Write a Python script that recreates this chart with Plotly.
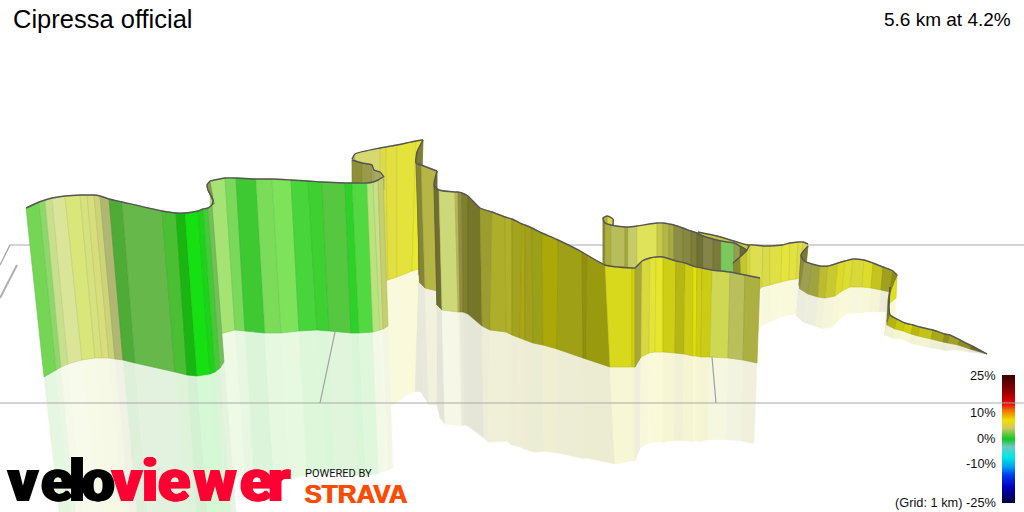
import plotly.graph_objects as go

TITLE = "Cipressa official"
SUBTITLE = "5.6 km at 4.2%"

S1_TOP_X = [26,39,45,52,65,80,87,94,100,109,122,162,176,185,198,203,208,212]
S1_TOP_Y = [208,202,200,198,196,195,195,195,196,199,202,211,213,213,211,209,208,205]
S1_BOT_X = [44,56,61,68,82,95,102,109,115,123,135,175,187,197,210,215,220,224]
S1_BOT_Y = [377,370,367,364,360,358,358,358,359,360,363,372,375,376,374,372,368,362]
S1_COL = ["#74d654","#8cd868","#c6e08c","#dbe59a","#d8e67a","#d6e27e","#d8de7c","#ccd477","#b0b770","#4dab36","#66b84a","#4abf33","#1ab511","#17e012","#1dd318","#40cc35","#72c058"]

S2_TOP_X = [210,225,236,256,272,291,308,322,345,352,367,373,378,383]
S2_TOP_Y = [181,178,178,179,179,180,181,182,183,183,183,182,180,177]
S2_BOT_X = [212,235,245,265,281,299,317,329,351,359,373,380,383,388]
S2_BOT_Y = [336,330,331,333,333,331,330,331,333,333,332,330,329,326]
S2_COL = ["#a5e474","#7ad85a","#3ec832","#7bdc5a","#7ee25a","#48d53c","#3dd030","#55c840","#2fd028","#52d840","#b8e47c","#c8e08a","#c4d06e"]

FOLD_TOP_X = [212,213,208,207,210]
FOLD_TOP_Y = [205,200,190,185,181]
FOLD_BOT_X = [213,214,214,214,214]
FOLD_BOT_Y = [205,204,204,204,204]
FOLD_COL = ["#7a8a40","#7a8a40","#8a9a50","#8a9a50"]

S2B_TOP_X = [352,362,372,374,380,384]
S2B_TOP_Y = [160,163,165,170,172,177]
S2B_BOT_X = [352,362,372,374,380,384]
S2B_BOT_Y = [190,190,190,190,190,190]
S2B_COL = ["#8f8f3a","#9a9a48","#a8a860","#a8a860","#b0b070"]

S3_TOP_X = [352,355,380,386,397,416,423]
S3_TOP_Y = [159,154,148,147,145,141,140]
S3_BOT_X = [360,362,382,388,397,412,419]
S3_BOT_Y = [290,290,283,280,277,271,269]
S3_COL = ["#b0b050","#d8d870","#dcdc4a","#e2e040","#e4e33c","#e8e82c"]

S4_TOP_X = [423,417,416,421,437]
S4_TOP_Y = [140,152,163,165,171]
S4_BOT_X = [419,419,420,425,437]
S4_BOT_Y = [269,275,283,288,291]
S4_COL = ["#7d7d38","#7d7d38","#85853a","#b6b645"]

S5_TOP_X = [437,434,439,455,458,462,468,480,492,505,512,522,525,532,542,558,582,587,605,632,635,642,650,656,663,676,685,693,697,702,712,730,745,760]
S5_TOP_Y = [171,186,190,192,192,193,196,208,212,217,219,224,225,228,233,240,252,255,265,268,268,261,258,257,257,261,263,266,267,268,270,272,275,278]
S5_BOT_X = [437,437,442,458,460,463,468,482,490,506,512,520,525,533,543,557,583,586,610,632,635,641,649,655,663,675,684,693,696,701,710,728,743,757]
S5_BOT_Y = [291,305,310,312,312,312,314,326,330,332,335,338,340,343,345,349,358,359,367,367,367,357,353,352,352,353,354,356,356,357,357,358,360,363]
S5_COL = ["#6e6e30","#6e6e30","#cdd878","#b8b858","#8f8f3c","#7f7f2c","#767628","#9c9c30","#aeae2a","#b0b02a","#a3a31e","#aaa614","#a0a01c","#9aa018","#aca808","#a0a016","#90900c","#9a9a0e","#d8d81c","#d0d010","#a8a838","#d8d840","#e4e438","#e6e62e","#cece14","#b6b616","#cccc14","#e4e008","#cece14","#cccc14","#cfd852","#b9bf5a","#acb040"]

S6_TOP_X = [613,613,607,603,605,611,625,628,637,657,663,669,674,683,691,697,703,713,721,734,740,747]
S6_TOP_Y = [225,219,216,218,223,225,227,227,226,223,223,224,225,228,231,233,236,239,241,243,246,250]
S6_BOT_X = [613,613,607,603,605,611,625,628,637,657,663,669,674,683,691,697,703,713,721,734,740,747]
S6_BOT_Y = [228,228,290,290,290,290,290,290,290,290,290,290,290,290,290,290,290,290,290,290,290,290]
S6_COL = ["#d0d040","#d8d840","#b0b040","#888840","#aeae40","#b9bc5a","#a2a83e","#c6ca68","#dfe35a","#c6c84a","#b4b648","#a7a944","#8c8e46","#86883f","#7e7e3a","#6e7034","#85854a","#7a7a3c","#7cc85c","#90a050","#6c6c30"]

S7B_TOP_X = [698,717,737,748,763]
S7B_TOP_Y = [232,236,242,245,246]
S7B_BOT_X = [698,717,737,748,763]
S7B_BOT_Y = [270,270,270,270,270]
S7B_COL = ["#c8c840","#c8c840","#c8c840","#c8c840"]

S7_TOP_X = [733,740,747,750,763,770,782,790,798,803,808]
S7_TOP_Y = [263,257,250,245,246,246,245,243,242,242,244]
S7_BOT_X = [737,742,747,750,762,770,781,789,796,800,805]
S7_BOT_Y = [300,300,300,298,287,285,282,280,279,278,277]
S7_COL = ["#8a8a30","#c4c830","#d6d840","#dede50","#d8dc48","#e0e044","#e4e43c","#e2e240","#dcdc48","#d8d850"]

S9_TOP_X = [897,890]
S9_TOP_Y = [275,287]
S9_BOT_X = [896,889]
S9_BOT_Y = [298,304]
S9_COL = ["#e0e020"]

S8_TOP_X = [808,801,804,812,820,828,838,845,853,864,873,883,893,897]
S8_TOP_Y = [246,255,261,264,266,266,263,261,259,260,263,267,271,275]
S8_BOT_X = [805,799,800,808,818,825,835,842,850,862,871,881,890,890]
S8_BOT_Y = [277,285,289,294,297,298,296,291,287,287,288,290,292,293]
S8_COL = ["#7a7a30","#8c8c40","#9ea050","#a0a440","#bcbc30","#c8c830","#dcdc28","#dede30","#d8d838","#dcdc2c","#c4c41c","#a0a01c","#8c8c18"]

S10_TOP_X = [890,889,890,897,905,913,920,933,945,950,960,972,987]
S10_TOP_Y = [287,308,315,319,323,325,327,330,334,335,340,346,354]
S10_BOT_X = [888,887,887,895,903,911,918,931,943,948,958,970,987]
S10_BOT_Y = [300,322,325,329,331,334,336,339,342,343,345,349,354]
S10_COL = ["#6a6a20","#7a7a28","#b4b410","#c8c808","#d0d008","#b8b80c","#c4c418","#a8a818","#909018","#a0a02a","#8c8c20","#6a6a20"]

BAND_PARTS = [
    (S7B_TOP_X,S7B_TOP_Y,S7B_BOT_X,S7B_BOT_Y,S7B_COL,False),
    (S6_TOP_X,S6_TOP_Y,S6_BOT_X,S6_BOT_Y,S6_COL,False),
    (S7_TOP_X,S7_TOP_Y,S7_BOT_X,S7_BOT_Y,S7_COL,True),
    (S9_TOP_X,S9_TOP_Y,S9_BOT_X,S9_BOT_Y,S9_COL,True),
    (S8_TOP_X,S8_TOP_Y,S8_BOT_X,S8_BOT_Y,S8_COL,True),
    (S10_TOP_X,S10_TOP_Y,S10_BOT_X,S10_BOT_Y,S10_COL,True),
    (S3_TOP_X,S3_TOP_Y,S3_BOT_X,S3_BOT_Y,S3_COL,True),
    (S2B_TOP_X,S2B_TOP_Y,S2B_BOT_X,S2B_BOT_Y,S2B_COL,False),
    (S4_TOP_X,S4_TOP_Y,S4_BOT_X,S4_BOT_Y,S4_COL,True),
    (S5_TOP_X,S5_TOP_Y,S5_BOT_X,S5_BOT_Y,S5_COL,True),
    (S2_TOP_X,S2_TOP_Y,S2_BOT_X,S2_BOT_Y,S2_COL,True),
    (FOLD_TOP_X,FOLD_TOP_Y,FOLD_BOT_X,FOLD_BOT_Y,FOLD_COL,False),
    (S1_TOP_X,S1_TOP_Y,S1_BOT_X,S1_BOT_Y,S1_COL,True),
]

GRID_H_Y = [245, 403]
GRID_H_X0 = [10, 0]
GRID_SEG_X = [[10,0],[335,320],[712,716]]
GRID_SEG_Y = [[245,265],[332,403],[357,403]]
GRID_THICK_X = [17,0]
GRID_THICK_Y = [265,298]

LEGEND_LABELS = ["25%","10%","0%","-10%","(Grid: 1 km) -25%"]
LEGEND_Y = [375,412,438,463,502]
COLOR_STOPS = [(0,"#000040"),(0.125,"#0000c0"),(0.22,"#0040f0"),(0.28,"#00a0f0"),(0.36,"#00e8e8"),(0.44,"#70c8c0"),(0.50,"#10c820"),(0.586,"#d0c860"),(0.648,"#f0e000"),(0.727,"#f07000"),(0.781,"#e80000"),(0.883,"#8c0000"),(1,"#3c0000")]

LOGO_A = ["v","e","l","o"]
LOGO_A_X = [23,57,77,98]
LOGO_B = ["v","i","e","w","e","r"]
LOGO_B_X = [127,150,174,215,256,279]


def mix_white(c, t):
    r,g,b = int(c[1:3],16),int(c[3:5],16),int(c[5:7],16)
    return "#%02x%02x%02x" % tuple(int(v+(255-v)*t) for v in (r,g,b))

def darker(c, t):
    r,g,b = int(c[1:3],16),int(c[3:5],16),int(c[5:7],16)
    return "#%02x%02x%02x" % tuple(int(v*t) for v in (r,g,b))

fig = go.Figure()

def poly(xs, ys, fill, line, w):
    fig.add_trace(go.Scatter(x=xs, y=ys, mode="lines", fill="toself", fillcolor=fill,
                             line=dict(color=line, width=w), hoverinfo="skip", showlegend=False))

# reflections below the ribbon
KY, KX = 0.95, 1.0
for tx,ty,bx,by,col,refl in BAND_PARTS:
    if not refl:
        continue
    rx = [b+(b-t)*KX for t,b in zip(tx,bx)]
    ry = [b+(b-t)*KY for t,b in zip(ty,by)]
    for i,c in enumerate(col):
        f = mix_white(c,0.82)
        poly([bx[i],bx[i+1],rx[i+1],rx[i],bx[i]],[by[i],by[i+1],ry[i+1],ry[i],by[i]],f,f,0.5)

# ground grid
for y,x0 in zip(GRID_H_Y,GRID_H_X0):
    fig.add_trace(go.Scatter(x=[x0,1024],y=[y,y],mode="lines",line=dict(color="#a9a9a9",width=1.2),hoverinfo="skip",showlegend=False))
for xs,ys in zip(GRID_SEG_X,GRID_SEG_Y):
    fig.add_trace(go.Scatter(x=xs,y=ys,mode="lines",line=dict(color="#a0a0a0",width=1.2),hoverinfo="skip",showlegend=False))
fig.add_trace(go.Scatter(x=GRID_THICK_X,y=GRID_THICK_Y,mode="lines",line=dict(color="#b0b0b0",width=2),hoverinfo="skip",showlegend=False))

# ribbon
for tx,ty,bx,by,col,refl in BAND_PARTS:
    for i,c in enumerate(col):
        poly([tx[i],tx[i+1],bx[i+1],bx[i],tx[i]],[ty[i],ty[i+1],by[i+1],by[i],ty[i]],c,darker(c,0.9),0.6)
    fig.add_trace(go.Scatter(x=tx,y=ty,mode="lines",line=dict(color="#555555",width=1.4,shape="spline",smoothing=0.6),hoverinfo="skip",showlegend=False))

# colour legend
fig.add_trace(go.Heatmap(x=[1002,1015],y=[375+i for i in range(129)],
                         z=[[1-i/127] for i in range(128)],
                         zmin=0,zmax=1,colorscale=[list(s) for s in COLOR_STOPS],showscale=False,hoverinfo="skip"))

# logo letters
for letters,xs,col in ((LOGO_A,LOGO_A_X,"#000000"),(LOGO_B,LOGO_B_X,"#ff0033")):
    fig.add_trace(go.Scatter(x=xs,y=[486]*len(xs),mode="text",text=letters,textposition="middle center",
                             textfont=dict(family="Roboto",size=60,color=col,weight=900,
                                           shadow=f"1px 0 0 {col}, -1px 0 0 {col}"),
                             hoverinfo="skip",showlegend=False))

ann = [
    dict(x=11,y=19,text=TITLE,xanchor="left",font=dict(size=25.5,color="#000")),
    dict(x=1013,y=19,text=SUBTITLE,xanchor="right",font=dict(size=19,color="#000")),
    dict(x=303,y=473,text="POWERED BY",xanchor="left",font=dict(size=11,color="#111",family="Roboto")),
    dict(x=302,y=494,text="<b>STRAVA</b>",xanchor="left",font=dict(size=26,color="#fc4c02",shadow="1px 0 0 #fc4c02")),
]
for t,y in zip(LEGEND_LABELS,LEGEND_Y):
    ann.append(dict(x=998,y=y,text=t,xanchor="right",font=dict(size=12.8,color="#111")))
for a in ann:
    a.update(xref="x",yref="y",showarrow=False,yanchor="middle")

fig.update_layout(width=1024,height=512,margin=dict(l=0,r=0,t=0,b=0),
                  paper_bgcolor="#fff",plot_bgcolor="#fff",showlegend=False,
                  font=dict(family="Liberation Sans"),annotations=ann,
                  xaxis=dict(range=[0,1024],visible=False,fixedrange=True),
                  yaxis=dict(range=[512,0],visible=False,fixedrange=True))
fig.write_html("out.html",post_script="document.body.style.margin='0';",config=dict(displayModeBar=False))
